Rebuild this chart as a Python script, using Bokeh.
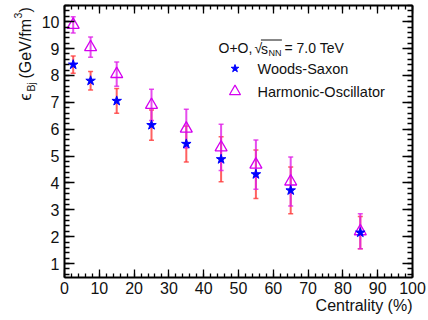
import math
from bokeh.plotting import figure
from bokeh.layouts import row
from bokeh.models import (LinearAxis, SingleIntervalTicker, Range1d, Label, Title,
                          Whisker, TeeHead, ColumnDataSource, CustomJSTickFormatter)
from bokeh.embed import file_html
from bokeh.resources import INLINE

# ---- data ----
centrality = [2.5, 7.5, 15, 25, 35, 45, 55, 65, 85]
ws_eps = [8.40, 7.80, 7.05, 6.15, 5.45, 4.88, 4.32, 3.72, 2.15]
ws_err = [0.32, 0.34, 0.46, 0.56, 0.67, 0.84, 0.90, 0.87, 0.60]
ho_eps = [9.88, 9.05, 8.05, 6.90, 6.02, 5.32, 4.68, 4.05, 2.20]
ho_err = [0.30, 0.38, 0.45, 0.58, 0.72, 0.86, 0.92, 0.91, 0.65]

x_ticks_interval = 10
y_ticks_interval = 1
XMIN, XMAX = 0, 100
YMIN, YMAX = 0.48, 10.6

FONT = "Liberation Sans"
STRIP_W = 38          # narrow strip that carries the y-axis title

p = figure(width=428 - STRIP_W, height=320, x_range=Range1d(XMIN, XMAX),
           y_range=Range1d(YMIN, YMAX), output_backend="svg",
           toolbar_location=None, min_border_left=63 - STRIP_W, min_border_right=16,
           min_border_top=5, min_border_bottom=43)
p.grid.visible = False
p.outline_line_color = None
p.background_fill_color = "white"
p.border_fill_color = "white"

# frame in page pixels (for placing the hand-made legend)
FL, FR, FT, FB = 63, 412, 5, 277
def dx(px):
    return XMIN + (px - FL) / (FR - FL) * (XMAX - XMIN)
def dy(py):
    return YMIN + (FB - py) / (FB - FT) * (YMAX - YMIN)

def style_axis(ax, major, show_labels, tick_in, minor_in):
    ax.ticker = SingleIntervalTicker(interval=major, num_minor_ticks=5)
    ax.major_tick_in = tick_in
    ax.major_tick_out = 0
    ax.minor_tick_in = minor_in
    ax.minor_tick_out = 0
    ax.axis_line_width = 2
    ax.axis_line_color = "black"
    ax.major_tick_line_color = "black"
    ax.minor_tick_line_color = "black"
    ax.major_tick_line_width = 1.3
    ax.minor_tick_line_width = 1.3
    ax.axis_label = None
    if show_labels:
        ax.major_label_text_font = FONT
        ax.major_label_text_font_size = "16px"
        ax.major_label_text_color = "#111111"
    else:
        ax.formatter = CustomJSTickFormatter(code="return ''")
        ax.major_label_standoff = 0

style_axis(p.xaxis[0], x_ticks_interval, True, 8, 4)
p.xaxis[0].major_label_standoff = 4
style_axis(p.yaxis[0], y_ticks_interval, True, 10, 5)
p.yaxis[0].major_label_standoff = 5

top = LinearAxis()
style_axis(top, x_ticks_interval, False, 8, 4)
p.add_layout(top, "above")
right = LinearAxis()
style_axis(right, y_ticks_interval, False, 10, 5)
p.add_layout(right, "right")

# x-axis title, right-aligned under the frame
p.add_layout(Title(text="Centrality (%)", align="right", vertical_align="top",
                   standoff=0, text_font=FONT, text_font_size="16px",
                   text_font_style="normal", text_color="#111111"), "below")

# ---- data marks ----
ws = ColumnDataSource(dict(x=centrality, y=ws_eps,
                           lo=[v - e for v, e in zip(ws_eps, ws_err)],
                           hi=[v + e for v, e in zip(ws_eps, ws_err)]))
ho = ColumnDataSource(dict(x=centrality, y=ho_eps,
                           lo=[v - e for v, e in zip(ho_eps, ho_err)],
                           hi=[v + e for v, e in zip(ho_eps, ho_err)]))

RED = "#ff3a3a"
MAG = "#e020e8"
for src, col, alpha in ((ws, RED, 0.8), (ho, MAG, 0.8)):
    w = Whisker(source=src, base="x", lower="lo", upper="hi", dimension="height",
                line_color=col, line_width=2, line_alpha=alpha,
                upper_head=TeeHead(size=5, line_color=col, line_width=1.5, line_alpha=alpha),
                lower_head=TeeHead(size=5, line_color=col, line_width=1.5, line_alpha=alpha))
    p.add_layout(w)

TRI = "#d400f0"
p.scatter("x", "y", source=ho, marker="triangle", size=12, fill_color=None,
          line_color=TRI, line_width=1.3)
p.scatter("x", "y", source=ws, marker="star", size=10, fill_color="#0000ff",
          line_color="#0000ff")

# ---- text helper (page pixel positions -> canvas units of a figure) ----
def lab(fig, ox, text, px, py, size, align="left", baseline="middle", angle=0.0,
        color="#111111"):
    fig.add_layout(Label(x=px - ox, y=py, x_units="canvas", y_units="canvas",
                         text=text, text_font=FONT, text_font_size=size,
                         text_align=align, text_baseline=baseline, angle=angle,
                         text_color=color))

# ---- legend (built by hand) ----
lab(p, STRIP_W, "O+O,", 218, 47, "14px")
lab(p, STRIP_W, "\u221A", 254, 47, "14px")
lab(p, STRIP_W, "s", 260.5, 48, "14px")
lab(p, STRIP_W, "NN", 268, 52, "9px")
lab(p, STRIP_W, "= 7.0 TeV", 284, 47, "14px")
p.line([dx(260), dx(281)], [dy(39.5), dy(39.5)], line_color="#111111", line_width=1)

lab(p, STRIP_W, "Woods-Saxon", 257, 68, "14.5px")
lab(p, STRIP_W, "Harmonic-Oscillator", 257, 91, "14.5px")
p.scatter([dx(234)], [dy(68)], marker="star", size=8, fill_color="#0000ff",
          line_color="#0000ff")
p.scatter([dx(234)], [dy(91)], marker="triangle", size=11, fill_color=None,
          line_color=TRI, line_width=1.2)

# ---- y-axis title in a narrow strip on the left ----
yl = figure(width=STRIP_W, height=320, x_range=Range1d(0, 1), y_range=Range1d(0, 1),
            output_backend="svg", toolbar_location=None, x_axis_type=None,
            y_axis_type=None, min_border=0)
yl.grid.visible = False
yl.outline_line_color = None
yl.border_fill_color = "white"
yl.background_fill_color = "white"

A = math.pi / 2
lab(yl, 0, "\u03F5", 25, 100, "16px", angle=A)
lab(yl, 0, "Bj", 30, 91, "10.5px", angle=A)
lab(yl, 0, "(GeV/fm", 25, 78, "16px", angle=A)
lab(yl, 0, "3", 17, 18, "10.5px", angle=A)
lab(yl, 0, ")", 25, 12, "16px", angle=A)

layout = row(yl, p, spacing=0)
open("out.html", "w").write(file_html(layout, INLINE))
